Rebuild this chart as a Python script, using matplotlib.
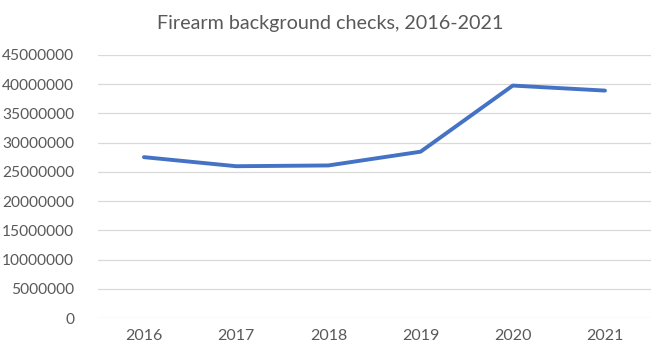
import matplotlib.pyplot as plt

years = ["2016", "2017", "2018", "2019", "2020", "2021"]
checks = [27520000, 25970000, 26100000, 28450000, 39760000, 38900000]
yticks = list(range(0, 45000001, 5000000))

plt.rcParams['font.family'] = ['Lato', 'DejaVu Sans']

fig = plt.figure(figsize=(6.61, 3.59), dpi=100)
ax = fig.add_axes([0.148, 0.114, 0.837, 0.733])

x = list(range(len(years)))
ax.plot(x, checks, color="#4472C4", linewidth=2.8, solid_capstyle="round", solid_joinstyle="round", zorder=3)

ax.set_xlim(-0.5, len(years) - 0.5)
ax.set_ylim(0, 45000000)
ax.set_yticks(yticks)
ax.set_yticklabels([str(v) for v in yticks])
ax.set_xticks(x)
ax.set_xticklabels(years)
ax.tick_params(axis="both", length=0, labelsize=11.5, colors="#595959")
ax.tick_params(axis="y", labelsize=11.2, pad=17)
ax.tick_params(axis="x", pad=8)
ax.grid(axis="y", color="#d9d9d9", linewidth=0.9)
ax.set_axisbelow(True)
for s in ax.spines.values():
    s.set_visible(False)

fig.text(0.5, 0.935, "Firearm background checks, 2016-2021", ha="center", va="center",
         fontsize=14.2, color="#595959")

fig.savefig("out.png", dpi=100)
